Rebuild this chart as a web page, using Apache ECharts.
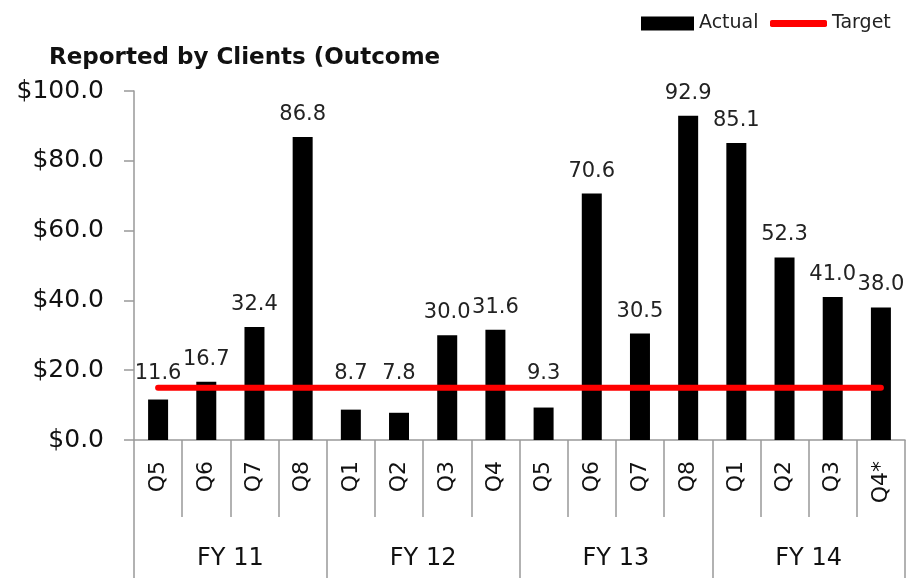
<!DOCTYPE html>
<html>
<head>
<meta charset="utf-8">
<script src="https://cdn.jsdelivr.net/npm/echarts@6/dist/echarts.min.js"></script>
<style>html,body{margin:0;padding:0;background:#fff;}#c{width:923px;height:581px;}</style>
</head>
<body>
<div id="c"></div>
<script>
const quarters = ['Q5','Q6','Q7','Q8','Q1','Q2','Q3','Q4','Q5','Q6','Q7','Q8','Q1','Q2','Q3','Q4*'];
const fiscalYears = ['FY 11','FY 12','FY 13','FY 14'];
const actual = [11.6,16.7,32.4,86.8,8.7,7.8,30.0,31.6,9.3,70.6,30.5,92.9,85.1,52.3,41.0,38.0];
const target = [15,15,15,15,15,15,15,15,15,15,15,15,15,15,15,15];
const yTicks = {min:0, max:100, interval:20};

const FONT = 'DejaVu Sans';
const GRID = {left:134, right:18, top:91, bottom:141};
const chart = echarts.init(document.getElementById('c'));

function targetPixelY(i){
  return chart.convertToPixel({yAxisIndex:0}, target[i]);
}

chart.setOption({
  animation:false,
  backgroundColor:'#fff',
  title:{text:'Reported by Clients (Outcome', left:44, top:42,
    textStyle:{fontFamily:FONT, fontSize:23, fontWeight:'bold', color:'#111'}},
  legend:[
    {data:[{name:'Actual', icon:'rect'}], left:636, top:9, itemWidth:53, itemHeight:14,
     textStyle:{fontFamily:FONT, fontSize:19, color:'#222'}},
    {data:[{name:'Target', icon:'roundRect'}], left:765, top:9, itemWidth:57, itemHeight:7,
     itemStyle:{color:'#ff0000'},
     textStyle:{fontFamily:FONT, fontSize:19, color:'#222'}}
  ],
  grid:{left:GRID.left, right:GRID.right, top:GRID.top, bottom:GRID.bottom, containLabel:false},
  xAxis:[
    {type:'category', data:quarters, position:'bottom',
     axisLine:{lineStyle:{color:'#999', width:1.5}},
     axisTick:{show:true, interval:0, length:77, lineStyle:{color:'#999', width:1.5}},
     axisLabel:{interval:0, rotate:90, margin:21, fontFamily:FONT, fontSize:22, color:'#111'}},
    {type:'category', data:fiscalYears, position:'bottom',
     axisLine:{show:false},
     axisTick:{show:true, interval:0, length:138, lineStyle:{color:'#999', width:1.5}},
     axisLabel:{interval:0, margin:107, fontFamily:FONT, fontSize:24, color:'#111'}}
  ],
  yAxis:{type:'value', min:yTicks.min, max:yTicks.max, interval:yTicks.interval,
    splitLine:{show:false},
    axisLine:{show:true, lineStyle:{color:'#999', width:1.5}},
    axisTick:{show:true, length:10, lineStyle:{color:'#999', width:1.5}},
    axisLabel:{margin:30, fontFamily:FONT, fontSize:25, color:'#111',
      formatter:v=>'$'+v.toFixed(1)}},
  series:[
    {name:'Actual', type:'bar', data:actual, barWidth:20, xAxisIndex:0,
     itemStyle:{color:'#000'},
     label:{show:true, position:'top', distance:12, fontFamily:FONT, fontSize:21, color:'#222',
       formatter:p=>p.value.toFixed(1)},
     labelLayout:function(params){
       const i = params.dataIndex;
       if (actual[i] < target[i]) {
         const r = params.labelRect;
         return {x: r.x + r.width/2, y: targetPixelY(i) - 14, align:'center', verticalAlign:'middle'};
       }
       return {};
     }},
    {name:'Target', type:'line', data:target, xAxisIndex:0, symbol:'none', z:5,
     itemStyle:{color:'#ff0000'},
     lineStyle:{color:'#ff0000', width:6, cap:'round'}}
  ]
});
</script>
</body>
</html>
